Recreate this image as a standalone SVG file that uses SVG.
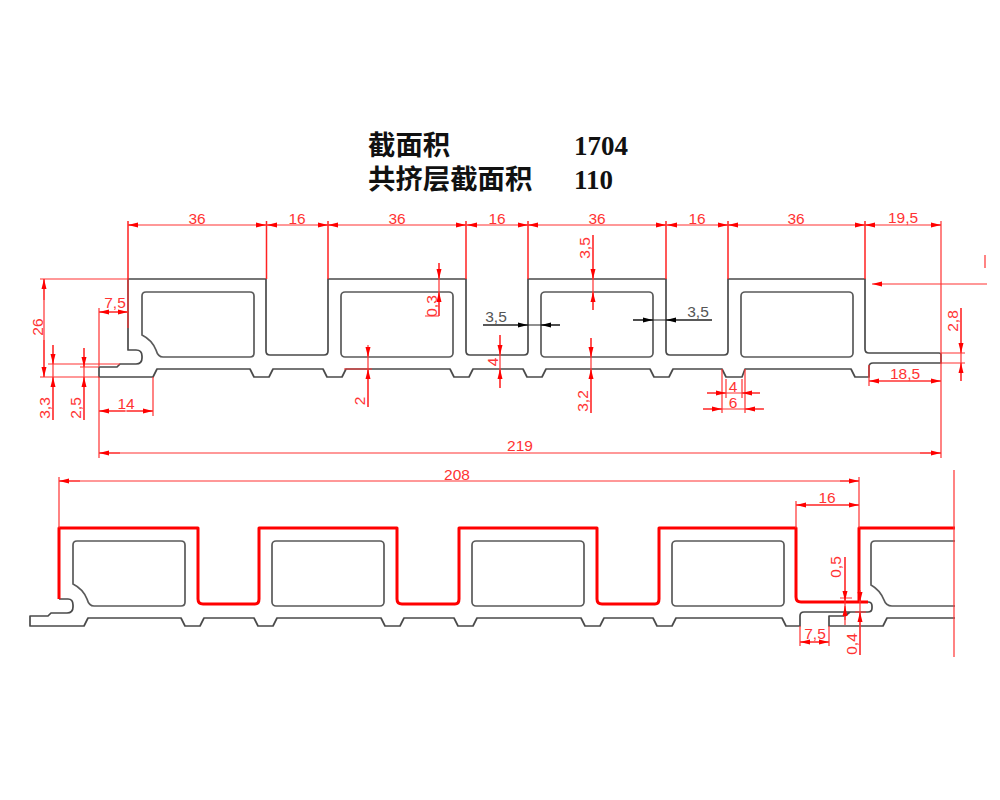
<svg xmlns="http://www.w3.org/2000/svg" width="1000" height="800" viewBox="0 0 1000 800">
<style>
.o{fill:none;stroke:#4a4a4a;stroke-width:1.7;stroke-linejoin:round}
.c{fill:none;stroke:#5a5a5a;stroke-width:1.7}
.h{fill:none;stroke:#f00;stroke-width:3;stroke-linejoin:round}
.d{fill:none;stroke:#f33;stroke-width:1.2}
.e{fill:none;stroke:#f22;stroke-width:1.5}
.a{fill:none;stroke:#f33;stroke-width:1.2;marker-end:url(#ar)}
.k{fill:none;stroke:#222;stroke-width:1.2;marker-end:url(#ak)}
.b{fill:none;stroke:#222;stroke-width:1.2}
text{font-family:"Liberation Sans",Arial,sans-serif;font-size:15.5px;text-anchor:middle;fill:#f33}
.g{fill:#555}
.t{font-family:"Noto Sans CJK SC",sans-serif;font-size:27.4px;font-weight:700;text-anchor:start;fill:#111}
.n{font-family:"Liberation Serif",serif;font-size:27px;font-weight:700;text-anchor:start;fill:#111}
</style>
<defs>
<marker id="ar" markerUnits="userSpaceOnUse" markerWidth="11" markerHeight="6" refX="10" refY="3" orient="auto"><path d="M0 0.500 L10 3 L0 5.500 Z" fill="#f00"/></marker>
<marker id="ak" markerUnits="userSpaceOnUse" markerWidth="11" markerHeight="6" refX="10" refY="3" orient="auto"><path d="M0 0.500 L10 3 L0 5.500 Z" fill="#000"/></marker>
<path id="chamfer" d="M146 292 H250 Q254 292 254 296 V353 Q254 357 250 357 H163 Q158 357 156 350 Q152 340 142 335 V296 Q142 292 146 292 Z"/>
</defs>
<rect width="1000" height="800" fill="#fff"/>
<g id="title">
<text class="t" x="368" y="155">截面积</text>
<text class="n" x="574" y="155">1704</text>
<text class="t" x="368" y="189">共挤层截面积</text>
<text class="n" x="574" y="189">110</text>
</g>
<g id="profile-top">
<path class="o" d="M128 279 H266 V351 Q266 355 270 355 H324 Q328 355 328 351 V279 H466 V351 Q466 355 470 355 H524 Q528 355 528 351 V279 H666 V351 Q666 355 670 355 H724 Q728 355 728 351 V279 H865 V349 Q865 353 869 353 H939 Q941 353 941 355 V363 H873 Q869 363 869 367 V377 H855 L851 369 H745 L742 377 H726 L722 369 H673 L669 377 H654 L650 369 H546 L542 377 H527 L523 369 H473 L469 377 H454 L450 369 H346 L342 377 H327 L323 369 H273 L269 377 H254 L250 369 H157 L153 377 H99 V367 H117 L120 364 H136 Q142 364 142 358 V356 Q142 350 136 350 H128 Z"/>
<use href="#chamfer" class="c"/>
<rect class="c" x="341" y="292" width="112" height="65" rx="4"/>
<rect class="c" x="541" y="292" width="112" height="65" rx="4"/>
<rect class="c" x="741" y="292" width="112" height="65" rx="4"/>
</g>
<g id="profile-bottom">
<path class="o" d="M59 599 H68 Q73 599 73 605 V607 Q73 613 67 613 H51 L48 616 H30 V626 H84 L88 618 H181 L185 626 H200 L204 618 H254 L258 626 H273 L277 618 H381 L385 626 H400 L404 618 H454 L458 626 H473 L477 618 H581 L585 626 H600 L604 618 H653 L657 626 H672 L676 618 H782 L786 626 H800 V616 Q800 612 804 612 H868 Q872 612 872 608 V606 Q872 602 868 602 M850 612 L845 616 H829 V626 H883 L887 618 H955"/>
<use href="#chamfer" class="c" transform="translate(-69 249)"/>
<rect class="c" x="272" y="541" width="112" height="65" rx="4"/>
<rect class="c" x="472" y="541" width="112" height="65" rx="4"/>
<rect class="c" x="672" y="541" width="112" height="65" rx="4"/>
<path class="c" d="M955 541 H875 Q871 541 871 545 V585 Q880 590 884 600 Q886 606 892 606 H955"/>
<path class="h" d="M59 599 V528 H198 V599 Q198 604 203 604 H255 Q259 604 259 599 V528 H397 V599 Q397 604 402 604 H455 Q459 604 459 599 V528 H597 V599 Q597 604 602 604 H655 Q659 604 659 599 V528 H796 V597 Q796 602 801 602 H868"/>
<path class="h" d="M955 528 H859 V603"/>
</g>
<g id="connectors">
<path class="e" d="M128 221 V279 M266.500 221 V279 M328 221 V279 M466 221 V279 M528 221 V279 M666 221 V279 M728 221 V279 M865 221 V279"/>
<path class="d" d="M128 225 H941 M941 221 V458 M99 308 V366 M99 377 V458 M128 279 V328 M40 279 H128 M40 377 H99 M48 364 H120 M80 367 H99 M153 377 V416 M344 369 H372 M869 365 V386 M941 353 H965 M941 363 H965 M726 379 V398 M742 379 V398 M722 369 V413 M745 369 V413 M59 477 V528 M859 477 V528 M796 501 V528 M954 470 V657 M800 626 V646 M829 626 V646 M840 598 H852 M985 255 V268 M855 612 H866 M425 316 H439"/>
<path class="d" d="M44 279 V377 M99 312 H128 M53 345 V420 M84 348 V420 M99 411 H153 M99 453 H941 M439 263 V316 M368 350 V407 M500 335 V388 M593 235 V310 M591 338 V413 M961 308 V381 M869 381 H941 M707 393 H760 M703 409 H764 M59 481 H859 M796 505 H859 M845 557 V620 M860 600 V655 M800 642 H829"/>
<path class="b" d="M483 325 H560 M633 320 H712"/>
<path class="a" d="M138 225 H128"/><path class="a" d="M256 225 H266"/><path class="a" d="M277 225 H267"/><path class="a" d="M318 225 H328"/><path class="a" d="M338 225 H328"/><path class="a" d="M456 225 H466"/><path class="a" d="M477 225 H467"/><path class="a" d="M518 225 H528"/><path class="a" d="M538 225 H528"/><path class="a" d="M656 225 H666"/><path class="a" d="M677 225 H667"/><path class="a" d="M718 225 H728"/><path class="a" d="M738 225 H728"/><path class="a" d="M855 225 H865"/><path class="a" d="M875 225 H865"/><path class="a" d="M931 225 H941"/>
<path class="a" d="M44 300 V279"/><path class="a" d="M44 340 V377"/>
<path class="a" d="M115 312 H99"/><path class="a" d="M115 312 H128"/>
<path class="a" d="M53 345 V364"/><path class="a" d="M53 420 V377"/>
<path class="a" d="M84 348 V367"/><path class="a" d="M84 420 V377"/>
<path class="a" d="M125 411 H99"/><path class="a" d="M127 411 H153"/>
<path class="a" d="M120 453 H99"/><path class="a" d="M920 453 H941"/>
<path class="a" d="M439 263 V279"/><path class="a" d="M439 316 V292"/>
<path class="a" d="M368 345 V357"/><path class="a" d="M368 407 V369"/>
<path class="a" d="M500 335 V355"/><path class="a" d="M500 388 V369"/>
<path class="a" d="M593 235 V279"/><path class="a" d="M593 310 V292"/>
<path class="a" d="M591 338 V357"/><path class="a" d="M591 413 V369"/>
<path class="a" d="M987 284 H872"/>
<path class="a" d="M961 308 V353"/><path class="a" d="M961 381 V363"/>
<path class="a" d="M905 381 H869"/><path class="a" d="M905 381 H941"/>
<path class="a" d="M707 393 H726"/><path class="a" d="M760 393 H742"/>
<path class="a" d="M703 409 H722"/><path class="a" d="M764 409 H745"/>
<path class="a" d="M80 481 H59"/><path class="a" d="M840 481 H859"/>
<path class="a" d="M827 505 H796"/><path class="a" d="M827 505 H859"/>
<path class="a" d="M845 557 V601"/><path class="a" d="M845 625 V606"/>
<path class="a" d="M860 590 V602"/><path class="a" d="M860 655 V612"/>
<path class="a" d="M815 642 H800"/><path class="a" d="M815 642 H829"/>
<path class="k" d="M483 325 H528"/><path class="k" d="M560 325 H541"/>
<path class="k" d="M633 320 H653"/><path class="k" d="M712 320 H666"/>
</g>
<g id="labels">
<text x="197" y="224">36</text><text x="297" y="224">16</text><text x="397" y="224">36</text><text x="497" y="224">16</text><text x="597" y="224">36</text><text x="697" y="224">16</text><text x="796" y="224">36</text><text x="903" y="223">19,5</text>
<text transform="translate(43 327) rotate(-90)">26</text>
<text x="115" y="308">7,5</text>
<text transform="translate(50 408) rotate(-90)">3,3</text>
<text transform="translate(81 408) rotate(-90)">2,5</text>
<text x="126" y="409">14</text>
<text x="520" y="451">219</text>
<text transform="translate(437 306) rotate(-90)">0,3</text>
<text transform="translate(365 401) rotate(-90)">2</text>
<text transform="translate(498 362) rotate(-90)">4</text>
<text transform="translate(590 248) rotate(-90)">3,5</text>
<text transform="translate(588 401) rotate(-90)">3,2</text>
<text class="g" x="496" y="322">3,5</text>
<text class="g" x="698" y="317">3,5</text>
<text transform="translate(958 321) rotate(-90)">2,8</text>
<text x="905" y="379">18,5</text>
<text x="733" y="392">4</text>
<text x="733" y="408">6</text>
<text x="457" y="480">208</text>
<text x="827" y="503">16</text>
<text transform="translate(841 567) rotate(-90)">0,5</text>
<text transform="translate(857 644) rotate(-90)">0,4</text>
<text x="815" y="639">7,5</text>
</g>
</svg>
